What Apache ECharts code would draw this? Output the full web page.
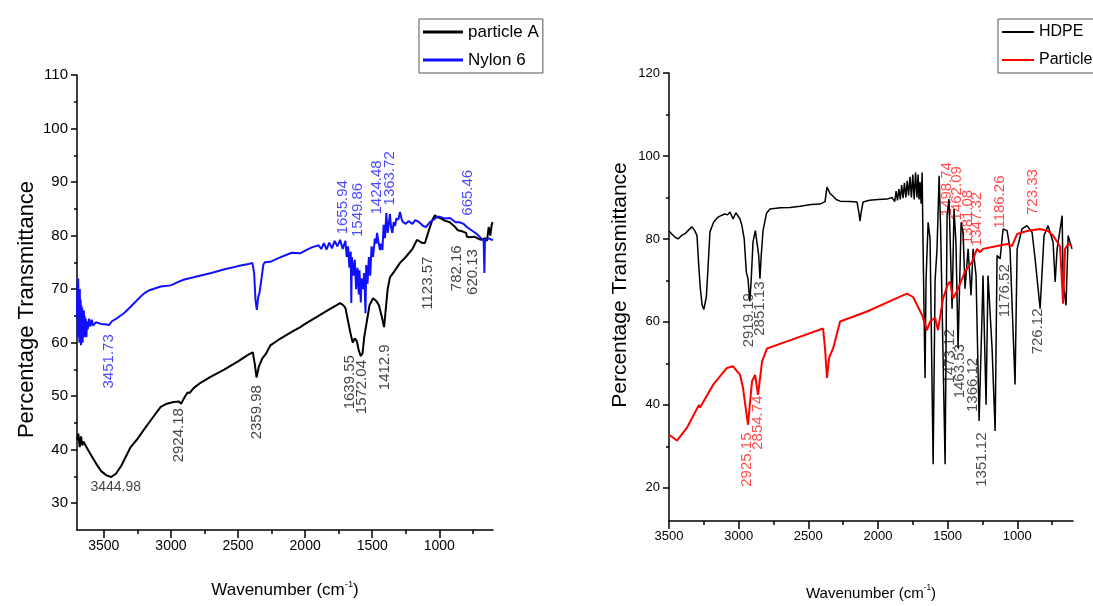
<!DOCTYPE html>
<html>
<head>
<meta charset="utf-8">
<title>FTIR spectra</title>
<script src="https://cdn.jsdelivr.net/npm/echarts@6/dist/echarts.min.js"></script>
<style>
    html, body { margin: 0; padding: 0; background: #fff; }
    #chart { width: 1093px; height: 606px; }
</style>
</head>
<body>
<div id="chart"></div>
<script>
// left panel: [wavenumber, %T]
const particleA = [
    [3700, 41.8], [3690, 43], [3680, 40.5], [3670, 42.5], [3660, 40.8], [3650, 41.5], [3630, 40.5],
    [3600, 39.2], [3560, 37.5], [3520, 36], [3480, 35.2], [3445, 34.9], [3410, 35.5], [3370, 37],
    [3330, 39], [3300, 40.5], [3250, 42], [3200, 43.8], [3150, 45.5], [3100, 47.2], [3076, 48],
    [3030, 48.6], [2980, 48.9], [2940, 49], [2924, 48.6], [2905, 49.5], [2876, 50.7], [2860, 50.6],
    [2831, 51.5], [2780, 52.5], [2705, 53.6], [2600, 55], [2500, 56.5], [2420, 57.8], [2390, 58.2],
    [2375, 56], [2362, 53.5], [2355, 54.3], [2345, 55.5], [2320, 57], [2290, 58], [2259, 59.5],
    [2200, 60.5], [2100, 62], [2036, 62.9], [2000, 63.5], [1900, 65], [1820, 66.2], [1739, 67.4],
    [1717, 67], [1700, 66.5], [1680, 64], [1660, 61.5], [1645, 60], [1630, 60.8], [1615, 60.3],
    [1600, 58.5], [1585, 57.5], [1572, 58], [1560, 61], [1540, 64], [1520, 67], [1494, 68.3],
    [1470, 67.8], [1450, 67], [1430, 65], [1412, 62.9], [1400, 66], [1385, 70], [1368, 72.2],
    [1330, 73.5], [1293, 74.9], [1250, 76], [1200, 77.5], [1167, 79.2], [1140, 78.8], [1123, 78.6],
    [1107, 78.6], [1090, 80], [1070, 81.6], [1050, 83], [1033, 83.8], [1015, 83.4], [996, 83.3],
    [960, 82.8], [922, 82.5], [890, 81.8], [862, 81], [830, 80.8], [800, 80.5], [795, 79.8],
    [773, 79.7], [740, 79.8], [700, 79.3], [684, 79.2], [660, 79.5], [645, 79], [640, 80],
    [632, 81.6], [620, 80], [610, 82], [603, 82.5]
]

const nylon6 = [
    [3700, 65], [3697, 71], [3694, 61], [3691, 72], [3688, 64], [3685, 69], [3682, 60], [3679, 70],
    [3676, 63], [3673, 68], [3670, 59.5], [3667, 67], [3664, 62], [3661, 66.5], [3658, 60], [3655, 65.5],
    [3652, 63], [3649, 66], [3646, 61], [3643, 65], [3640, 62.5], [3635, 64.5], [3630, 61], [3625, 64],
    [3620, 62.5], [3610, 64.5], [3600, 63], [3590, 64.3], [3580, 63.2], [3560, 63.8], [3520, 63.5],
    [3480, 63.4], [3460, 63.3], [3440, 64], [3400, 64.6], [3350, 65.5], [3300, 66.7], [3250, 68],
    [3200, 69.2], [3160, 69.8], [3076, 70.5], [3000, 70.7], [2950, 71.3], [2900, 71.8], [2831, 72.2],
    [2700, 73], [2600, 73.7], [2500, 74.3], [2420, 74.7], [2393, 74.9], [2380, 73], [2370, 68],
    [2360, 66.1], [2350, 68.5], [2340, 69.3], [2325, 72], [2311, 74.6], [2300, 75], [2260, 75.1],
    [2200, 75.8], [2100, 76.8], [2036, 76.7], [2000, 77.2], [1950, 77.8], [1900, 78.2], [1880, 77.5],
    [1860, 78.6], [1840, 77.4], [1820, 78.7], [1800, 77.6], [1780, 79], [1760, 78], [1739, 79.2],
    [1720, 77.5], [1700, 79], [1690, 76], [1680, 78], [1670, 74], [1660, 77], [1656, 67.4],
    [1652, 76], [1640, 72.5], [1630, 75.5], [1620, 70], [1610, 74], [1600, 69], [1595, 73.5],
    [1585, 67.5], [1580, 72], [1570, 70], [1560, 73], [1550, 65.5], [1545, 74.5], [1535, 71],
    [1525, 76], [1515, 72.5], [1505, 78], [1494, 76], [1480, 79.5], [1470, 78.5], [1464, 80.5],
    [1455, 79], [1442, 77.3], [1435, 78.5], [1424, 77.3], [1415, 82], [1405, 79.5], [1395, 84.2],
    [1385, 80.5], [1375, 82.5], [1368, 84], [1360, 81.6], [1350, 80.5], [1340, 82.5], [1330, 81.8],
    [1320, 83.2], [1305, 83], [1293, 84.4], [1280, 83], [1270, 82.5], [1250, 82.2], [1230, 82.7],
    [1200, 82.2], [1180, 82.9], [1150, 82.5], [1120, 81.8], [1100, 81.6], [1070, 82.5], [1040, 83],
    [1020, 83.5], [996, 83.5], [960, 83.2], [920, 83.3], [880, 82.5], [850, 82.5], [820, 82.2],
    [795, 81.6], [760, 81], [720, 80.3], [690, 79.5], [670, 79.2], [664, 73], [660, 79],
    [650, 78.9], [630, 79.5], [610, 79.2], [600, 79.2]
]

// right panel: [wavenumber, %T]
const hdpe = [
    [3500, 81.9], [3480, 81.2], [3460, 80.5], [3435, 80], [3410, 80.8], [3380, 81.4], [3355, 82.3],
    [3335, 82.9], [3315, 82], [3299, 80.8], [3285, 72.8], [3275, 68], [3262, 64], [3250, 63],
    [3242, 63.2], [3232, 66], [3220, 73], [3206, 81.7], [3180, 84], [3150, 85.2], [3134, 85.5],
    [3100, 86], [3080, 85.8], [3062, 86.5], [3040, 84.8], [3020, 86.3], [3012, 86], [2990, 84.8],
    [2976, 83.1], [2960, 80], [2945, 72], [2933, 70.4], [2920, 64.9], [2910, 70], [2897, 79.3],
    [2880, 82], [2868, 81.7], [2856, 76], [2847, 70.4], [2838, 76], [2825, 82], [2800, 86.2],
    [2775, 87.2], [2700, 87.5], [2631, 87.6], [2559, 87.9], [2480, 88.3], [2416, 88.4], [2380, 89],
    [2366, 92.5], [2345, 91], [2322, 90.3], [2300, 89.5], [2272, 89.1], [2200, 89], [2150, 88.9],
    [2135, 86], [2129, 84.3], [2120, 86.5], [2107, 88.9], [2060, 89.3], [2000, 89.5], [1935, 89.6],
    [1900, 90], [1880, 89], [1870, 91.5], [1860, 89.3], [1850, 92], [1840, 89.5], [1830, 93],
    [1820, 89.8], [1810, 93.5], [1800, 90], [1790, 94], [1780, 90.5], [1770, 95], [1760, 90],
    [1750, 95.5], [1740, 89.5], [1730, 96], [1720, 90], [1712, 95.5], [1705, 89.5], [1698, 93.7],
    [1690, 88.5], [1683, 96], [1676, 77.6], [1662, 46.5], [1655, 70], [1640, 84], [1626, 80],
    [1604, 25.7], [1590, 70], [1576, 77.6], [1561, 95.2], [1550, 82], [1540, 81.6], [1518, 25.7],
    [1504, 85.6], [1490, 89.6], [1468, 63.2], [1454, 87.2], [1440, 79], [1432, 79.2], [1425, 53.7],
    [1403, 84], [1389, 81.6], [1375, 68], [1353, 77.6], [1332, 66.4], [1317, 77.6], [1296, 71.2],
    [1274, 36.1], [1253, 61.6], [1246, 71.2], [1224, 40], [1210, 71.2], [1181, 53.7], [1159, 33.7],
    [1145, 76], [1123, 75.2], [1102, 82.4], [1073, 82], [1052, 77.6], [1016, 44.9], [1001, 77.6],
    [966, 82.4], [930, 83.2], [894, 81.6], [872, 75.2], [836, 63.2], [808, 80.8], [779, 83.2],
    [743, 79.2], [728, 69.6], [714, 77.6], [678, 85.6], [671, 69.6], [650, 64], [635, 80.8],
    [621, 80.8], [607, 77.6]
]

const particleC = [
    [3500, 32.8], [3443, 31.4], [3371, 34.5], [3285, 40], [3278, 39.3], [3184, 44.8], [3084, 48.9],
    [3040, 49.3], [2990, 47.2], [2969, 44.1], [2933, 35.2], [2904, 45.7], [2882, 47.2], [2861, 42.4],
    [2832, 50.5], [2796, 53.6], [2653, 55.3], [2394, 58.4], [2380, 53.6], [2366, 46.5], [2351, 51.3],
    [2322, 53.6], [2272, 60.1], [2078, 62.5], [1841, 66.1], [1791, 66.8], [1748, 66], [1683, 61.6],
    [1648, 58], [1626, 60.1], [1590, 61], [1569, 58], [1533, 65.6], [1497, 69.2], [1482, 69.7],
    [1461, 65.6], [1425, 68], [1375, 72.1], [1324, 74.5], [1289, 77.6], [1267, 76.8], [1246, 77.6],
    [1145, 78.3], [1073, 78.8], [1037, 78.3], [1001, 81.2], [930, 81.9], [836, 82.4], [779, 81.9],
    [743, 80.8], [714, 79.3], [693, 78.1], [671, 64.4], [657, 77.6], [635, 78.8], [607, 78.3]
]

// peak annotations: [wavenumber, %T of label centre, text]
const particleALabels = [
    [2943, 42.7, "2924.18"], [2356, 47, "2359.98"], [1665, 52.6, "1639.55"], [1576, 51.7, "1572.04"],
    [1405, 55.4, "1412.9"], [1085, 71.1, "1123.57"], [870, 73.9, "782.16"], [751, 73.2, "620.13"]
]
const particleAFlatLabels = [[3411, 33.0, "3444.98"]]
const nylon6Labels = [
    [3463, 56.5, "3451.73"], [1717, 85.3, "1655.94"], [1605, 84.8, "1549.86"], [1464, 89, "1424.48"],
    [1368, 90.7, "1363.72"], [788, 88, "665.46"]
]
const hdpeLabels = [
    [2926, 60.4, "2919.19"], [2847, 63.2, "2851.13"], [1482, 51.7, "1473.12"], [1411, 48.1, "1463.53"],
    [1317, 44.8, "1366.12"], [1253, 26.8, "1351.12"], [1088, 67.5, "1176.52"], [851, 57.7, "726.12"]
]
const particleCLabels = [
    [2940, 26.8, "2925.15"], [2861, 35.7, "2854.74"], [1504, 92, "1498.74"], [1432, 91, "1462.09"],
    [1353, 85.3, "1381.08"], [1289, 84.8, "1347.32"], [1123, 88.9, "1186.26"], [887, 91.3, "723.33"]
]

const xMajorTicks = [1000, 1500, 2000, 2500, 3000, 3500]
const xMinorTicks = [750, 1250, 1750, 2250, 2750, 3250]
const leftYMajor = [30, 40, 50, 60, 70, 80, 90, 100, 110]
const leftYMinor = [35, 45, 55, 65, 75, 85, 95, 105]
const rightYMajor = [20, 40, 60, 80, 100, 120]
const rightYMinor = [30, 50, 70, 90, 110]

const SANS = "'Liberation Sans', Arial, sans-serif"

function xAxes(gridIndex, max, fontSize, nameSize, nameGap) {
    const base = { type: "value", gridIndex, min: 600, max, inverse: true, position: "bottom", splitLine: { show: false } }
    return [
        {
            ...base,
            axisLine: { show: true, onZero: false, lineStyle: { color: "#000", width: 1.5 } },
            axisTick: { show: true, length: 8, customValues: xMajorTicks, lineStyle: { color: "#000", width: 1.5 } },
            axisLabel: { customValues: xMajorTicks, color: "#000", fontSize, fontFamily: SANS, margin: 9, formatter: v => String(v) },
            name: "{n|Wavenumber (cm}{s|-1}{n|)}",
            nameLocation: "middle",
            nameGap,
            nameTextStyle: {
                rich: {
                    n: { fontSize: nameSize, fontFamily: SANS, color: "#000", lineHeight: nameSize + 4 },
                    s: { fontSize: nameSize * 0.55, fontFamily: SANS, color: "#000", verticalAlign: "top", lineHeight: nameSize * 0.6 },
                },
            },
        },
        {
            ...base,
            axisLine: { show: false },
            axisTick: { show: true, length: 4, customValues: xMinorTicks, lineStyle: { color: "#000", width: 1.5 } },
            axisLabel: { show: false },
        },
    ]
}

function yAxes(gridIndex, min, max, major, minor, fontSize, nameSize, nameGap, namePadding) {
    const base = { type: "value", gridIndex, min, max, position: "left", splitLine: { show: false } }
    return [
        {
            ...base,
            axisLine: { show: true, onZero: false, lineStyle: { color: "#000", width: 1.5 } },
            axisTick: { show: true, length: 6, customValues: major, lineStyle: { color: "#000", width: 1.5 } },
            axisLabel: { customValues: major, color: "#000", fontSize, fontFamily: SANS, margin: 9 },
            name: "Percentage Transmittance",
            nameLocation: "middle",
            nameGap,
            nameTextStyle: { fontSize: nameSize, fontFamily: SANS, color: "#000", padding: namePadding },
        },
        {
            ...base,
            axisLine: { show: false },
            axisTick: { show: true, length: 3, customValues: minor, lineStyle: { color: "#000", width: 1.5 } },
            axisLabel: { show: false },
        },
    ]
}

function lineSeries(name, data, axis, color, width) {
    return {
        name, type: "line", data, xAxisIndex: axis, yAxisIndex: axis,
        showSymbol: false, symbol: "none", smooth: false, sampling: false,
        lineStyle: { color, width }, itemStyle: { color },
    }
}

function labelSeries(data, axis, color, fontSize, rotate) {
    return {
        type: "scatter", data, xAxisIndex: axis, yAxisIndex: axis, symbolSize: 1, silent: true,
        itemStyle: { color: "transparent" },
        label: {
            show: true, position: "inside", rotate, color, fontSize, fontFamily: SANS,
            formatter: p => p.data[2],
        },
    }
}

const chart = echarts.init(document.getElementById("chart"))
chart.setOption({
    animation: false,
    backgroundColor: "#fff",
    grid: [
        { left: 77, top: 75, width: 416, height: 455 },
        { left: 669, top: 73, width: 404, height: 450 },
    ],
    legend: [
        {
            data: ["particle A", "Nylon 6"], orient: "vertical", left: 419, top: 19,
            padding: [3, 4, 3, 4], borderColor: "#555", borderWidth: 1, itemGap: 8,
            itemWidth: 40, itemHeight: 3, icon: "rect", itemTextGap: 4,
            textStyle: { fontSize: 17, fontFamily: SANS, color: "#000", lineHeight: 20 },
        },
        {
            data: ["HDPE", "Particle c"], orient: "vertical", left: 998, top: 19,
            padding: [3, 4, 3, 4], borderColor: "#555", borderWidth: 1, itemGap: 8,
            itemWidth: 32, itemHeight: 2, icon: "rect", itemTextGap: 4,
            textStyle: { fontSize: 16, fontFamily: SANS, color: "#000", lineHeight: 20 },
        },
    ],
    xAxis: [...xAxes(0, 3700, 14, 17, 50), ...xAxes(1, 3500, 13, 15, 63)],
    yAxis: [
        ...yAxes(0, 25, 110, leftYMajor, leftYMinor, 15, 22, 39, [0, 14, 0, 0]),
        ...yAxes(1, 12, 120, rightYMajor, rightYMinor, 13, 21, 38, [0, 0, 0, 24]),
    ],
    series: [
        lineSeries("particle A", particleA, 0, "#000", 2),
        lineSeries("Nylon 6", nylon6, 0, "#1010ff", 2),
        lineSeries("HDPE", hdpe, 2, "#000", 1.5),
        lineSeries("Particle c", particleC, 2, "#ff0000", 2),
        labelSeries(particleALabels, 0, "#111", 15, 90),
        labelSeries(particleAFlatLabels, 0, "#111", 14, 0),
        labelSeries(nylon6Labels, 0, "#1a1aff", 15, 90),
        labelSeries(hdpeLabels, 2, "#222", 15, 90),
        labelSeries(particleCLabels, 2, "#ff2020", 15, 90),
    ],
})
</script>
</body>
</html>
